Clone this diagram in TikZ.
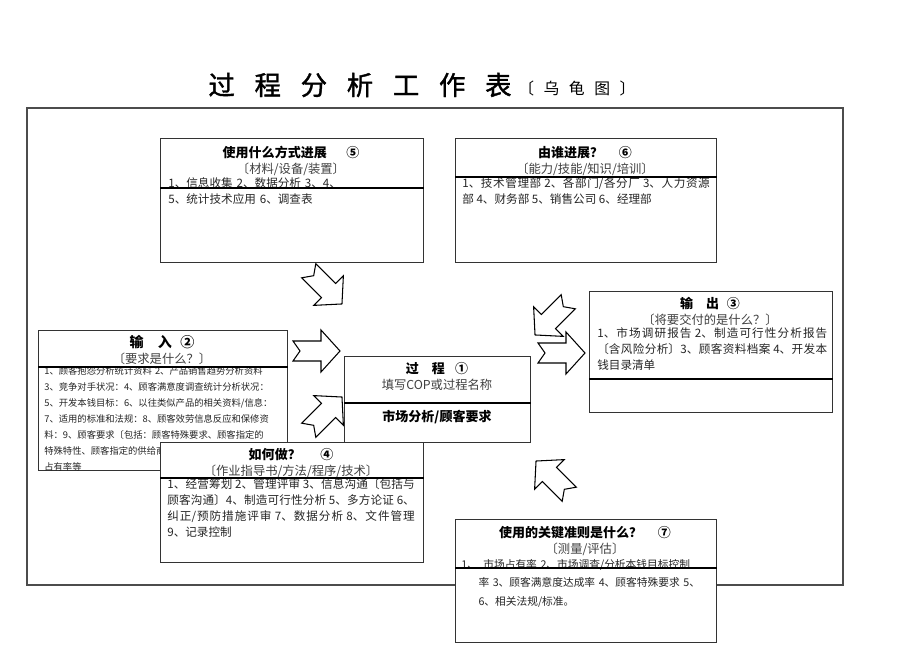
\documentclass[tikz,border=0pt]{standalone}
\usepackage{fontspec}
\setmainfont{Noto Sans CJK SC}
\newfontfamily\cjkbold[FakeBold=1.5]{Noto Sans CJK SC}
\XeTeXlinebreaklocale "zh"
\XeTeXlinebreakskip=0pt plus 1pt
\usetikzlibrary{positioning}

\tikzset{
  box/.style={draw=black!80,line width=0.7pt,anchor=north west,inner sep=0pt,fill=white},
  head/.style={anchor=north,inner sep=0pt,font=\fontsize{7.4}{9}\selectfont\bfseries},
  sub/.style={anchor=north,inner sep=0pt,font=\fontsize{7}{9}\selectfont,text=black!75},
  body/.style={anchor=north west,inner sep=0pt,align=justify,font=\fontsize{6.6}{9.1}\selectfont,text=black!85},
  smallbody/.style={body,align=left,font=\fontsize{5.3}{9.1}\selectfont},
  bigarrow/.style={draw=black,line width=0.6pt,fill=white,line join=miter},
}
% notched block arrow at (x,y), turned by angle
\newcommand\bigarrow[3]{%
  \begin{scope}[shift={(#1,#2)},rotate=#3]
    \draw[bigarrow] (-23,-10) -- (5,-10) -- (5,-21) -- (24,0) -- (5,21) -- (5,10) -- (-23,10) -- (-16,0) -- cycle;
  \end{scope}}

\begin{document}
\begin{tikzpicture}[x=0.02cm,y=-0.02cm]
\useasboundingbox (0,0) rectangle (920,651);

% title
\node[inner sep=0pt,font=\fontsize{15}{15}\selectfont\cjkbold] (Title) at (360,85) {过\hspace{0.75em}程\hspace{0.75em}分\hspace{0.75em}析\hspace{0.75em}工\hspace{0.75em}作\hspace{0.75em}表};
\node[inner sep=0pt,font=\fontsize{9}{9}\selectfont,anchor=west] (TitleB) at (518,88) {〔\hspace{0.6em}乌\hspace{0.6em}龟\hspace{0.6em}图\hspace{0.6em}〕};

% frame
\draw[black!70,line width=0.6pt] (27,108) rectangle (843,585);

% 5
\node[box,minimum width=5.26cm,minimum height=2.48cm] (BoxHow) at (160,138) {};
\node[head] (HeadHow) at (291,146) {使用什么方式进展\hspace{1.5em}⑤};
\node[sub,below=2pt of HeadHow] (SubHow) {〔材料/设备/装置〕};
\node[body,align=left,text width=4.9cm] (BodyHow) at (168,177) {1、信息收集 2、数据分析 3、4、\\5、统计技术应用 6、调查表};
\draw[line width=0.6pt] (BoxHow.west |- 0,188) -- (BoxHow.east |- 0,188);

% 6
\node[box,minimum width=5.22cm,minimum height=2.48cm] (BoxWho) at (455,138) {};
\node[head] (HeadWho) at (585,146) {由谁进展？\hspace{1.2em}⑥};
\node[sub,below=2pt of HeadWho] (SubWho) {〔能力/技能/知识/培训〕};
\node[body,text width=4.95cm] (BodyWho) at (462,177) {1、技术管理部 2、各部门/各分厂 3、人力资源部 4、财务部 5、销售公司 6、经理部};
\draw[line width=0.6pt] (BoxWho.west |- 0,177) -- (BoxWho.east |- 0,177);

% 3
\node[box,minimum width=4.86cm,minimum height=2.42cm] (BoxOut) at (589,291) {};
\node[head] (HeadOut) at (710,297) {输\hspace{1em}出\hspace{0.6em}③};
\node[sub,below=2pt of HeadOut] (SubOut) {〔将要交付的是什么？〕};
\node[body,text width=4.6cm] (BodyOut) at (597,327) {1、市场调研报告 2、制造可行性分析报告〔含风险分析〕3、顾客资料档案 4、开发本钱目录清单};
\draw[line width=0.6pt] (BoxOut.west |- 0,379) -- (BoxOut.east |- 0,379);

% 2
\node[box,minimum width=4.98cm,minimum height=2.8cm] (BoxIn) at (38,330) {};
\node[head,font=\fontsize{8}{9}\selectfont\bfseries] (HeadIn) at (162,335) {输\hspace{1em}入\hspace{0.6em}②};
\node[sub,below=2pt of HeadIn] (SubIn) {〔要求是什么？〕};
\node[smallbody,text width=4.8cm] (BodyIn) at (44,366) {1、顾客抱怨分析统计资料 2、产品销售趋势分析资料\\3、竞争对手状况：4、顾客满意度调查统计分析状况：\\5、开发本钱目标：6、以往类似产品的相关资料/信息：\\7、适用的标准和法规：8、顾客效劳信息反应和保修资\\料：9、顾客要求〔包括：顾客特殊要求、顾客指定的\\特殊特性、顾客指定的供给商、市场\\占有率等};
\draw[line width=0.6pt] (BoxIn.west |- 0,367) -- (BoxIn.east |- 0,367);

% 1
\node[box,minimum width=3.72cm,minimum height=1.72cm] (BoxProc) at (344,356) {};
\node[head] (HeadProc) at (437,362) {过\hspace{1em}程\hspace{0.8em}①};
\node[sub,below=2pt of HeadProc] (SubProc) {填写COP或过程名称};
\node[head] (BodyProc) at (437,410) {市场分析/顾客要求};
\draw[line width=0.6pt] (BoxProc.west |- 0,403) -- (BoxProc.east |- 0,403);

% 4
\node[box,minimum width=5.26cm,minimum height=2.4cm] (BoxDo) at (160,442) {};
\node[head] (HeadDo) at (291,448) {如何做？\hspace{1.5em}④};
\node[sub,below=2pt of HeadDo] (SubDo) {〔作业指导书/方法/程序/技术〕};
\node[body,text width=4.95cm] (BodyDo) at (167,478) {1、经营筹划 2、管理评审 3、信息沟通〔包括与顾客沟通〕4、制造可行性分析 5、多方论证 6、纠正/预防措施评审 7、数据分析 8、文件管理 9、记录控制};
\draw[line width=0.6pt] (BoxDo.west |- 0,478) -- (BoxDo.east |- 0,478);

% 7
\node[box,minimum width=5.22cm,minimum height=2.46cm] (BoxKey) at (455,519) {};
\node[head] (HeadKey) at (585,526) {使用的关键准则是什么？\hspace{1.2em}⑦};
\node[sub,below=2pt of HeadKey] (SubKey) {〔测量/评估〕};
\node[body,align=left,text width=5.1cm,font=\fontsize{6.1}{10.5}\selectfont] (BodyKey) at (461,559) {1、\hspace{0.5em}市场占有率 2、市场调查/分析本钱目标控制\\\hspace{1.6em}率 3、顾客满意度达成率 4、顾客特殊要求 5、\\\hspace{1.6em}6、相关法规/标准。};
\draw[line width=0.6pt] (BoxKey.west |- 0,568) -- (BoxKey.east |- 0,568);

% block arrows
\bigarrow{325}{287}{-45}
\bigarrow{316}{351}{0}
\bigarrow{325}{414}{45}
\bigarrow{552}{318}{-135}
\bigarrow{561}{353}{0}
\bigarrow{553}{478}{135}

\end{tikzpicture}
\end{document}
